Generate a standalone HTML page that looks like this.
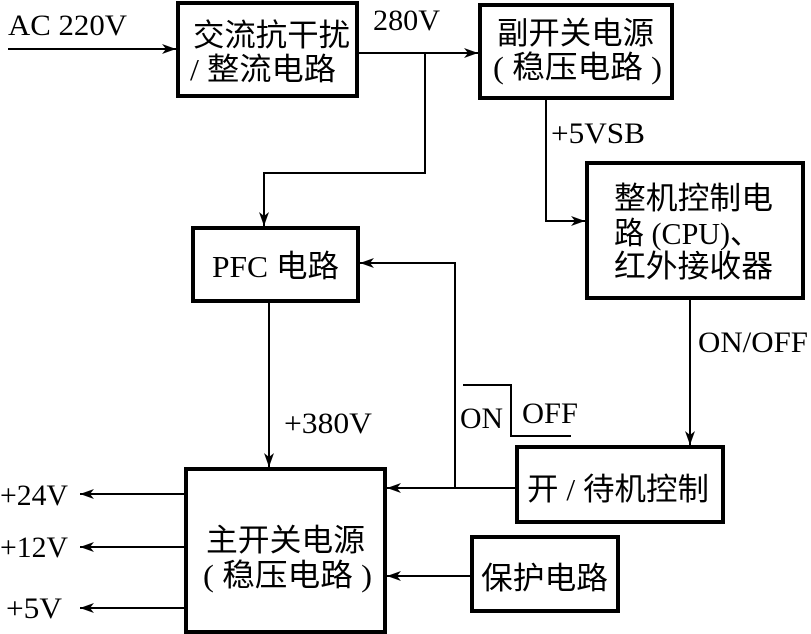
<!DOCTYPE html>
<html><head><meta charset="utf-8"><style>
html,body{margin:0;padding:0;background:#fff;}
svg{display:block;}
.c{font-family:"Liberation Serif","Noto Sans CJK SC",serif;font-size:31px;fill:#000;}
.l{font-family:"Liberation Serif",serif;font-size:30px;fill:#000;}
</style></head><body>
<svg width="811" height="634" viewBox="0 0 811 634" xmlns="http://www.w3.org/2000/svg">
<defs><marker id="a" viewBox="0 0 14 10" refX="14" refY="5" markerWidth="14" markerHeight="10" markerUnits="userSpaceOnUse" orient="auto"><path d="M0,0 L14,5 L0,10 L4,5 Z" fill="#000"/></marker></defs>
<g fill="none" stroke="#000" stroke-width="4">
<rect x="178" y="3" width="179" height="93"/>
<rect x="480" y="5" width="192" height="93"/>
<rect x="587" y="163" width="216" height="135"/>
<rect x="193" y="228" width="165" height="73"/>
<rect x="186" y="469" width="199" height="163"/>
<rect x="517" y="447" width="206" height="75"/>
<rect x="472" y="537" width="146" height="74"/>
</g>
<g fill="none" stroke="#000" stroke-width="2">
<line x1="8" y1="49" x2="176" y2="49" marker-end="url(#a)"/>
<line x1="357" y1="53" x2="478" y2="53" marker-end="url(#a)"/>
<polyline points="425,53 425,173 264,173 264,226" marker-end="url(#a)"/>
<polyline points="546,98 546,221 585,221" marker-end="url(#a)"/>
<line x1="269" y1="301" x2="269" y2="467" marker-end="url(#a)"/>
<line x1="517" y1="488" x2="387" y2="488" marker-end="url(#a)"/>
<polyline points="455,488 455,263 360,263" marker-end="url(#a)"/>
<line x1="690" y1="298" x2="690" y2="445" marker-end="url(#a)"/>
<line x1="472" y1="576" x2="387" y2="576" marker-end="url(#a)"/>
<line x1="186" y1="494" x2="80" y2="494" marker-end="url(#a)"/>
<line x1="186" y1="547" x2="80" y2="547" marker-end="url(#a)"/>
<line x1="186" y1="608" x2="80" y2="608" marker-end="url(#a)"/>
<polyline points="463,385 511,385 511,436 571,436"/>
</g>
<g class="c" lengthAdjust="spacingAndGlyphs">
<text x="193" y="46" textLength="157" lengthAdjust="spacingAndGlyphs">交流抗干扰</text>
<text x="190" y="80" textLength="146" lengthAdjust="spacingAndGlyphs">/ 整流电路</text>
<text x="497" y="44" textLength="157" lengthAdjust="spacingAndGlyphs">副开关电源</text>
<text x="493" y="78" textLength="169" lengthAdjust="spacingAndGlyphs">( 稳压电路 )</text>
<text x="614" y="209" textLength="159" lengthAdjust="spacingAndGlyphs">整机控制电</text>
<text x="614" y="244" textLength="146" lengthAdjust="spacingAndGlyphs">路 (CPU)、</text>
<text x="614" y="277" textLength="159" lengthAdjust="spacingAndGlyphs">红外接收器</text>
<text x="212" y="277" textLength="127" lengthAdjust="spacingAndGlyphs">PFC 电路</text>
<text x="206" y="551" textLength="159" lengthAdjust="spacingAndGlyphs">主开关电源</text>
<text x="203" y="586" textLength="169" lengthAdjust="spacingAndGlyphs">( 稳压电路 )</text>
<text x="527" y="500" textLength="182" lengthAdjust="spacingAndGlyphs">开 / 待机控制</text>
<text x="481" y="589" textLength="127" lengthAdjust="spacingAndGlyphs">保护电路</text>
</g>
<text class="l" x="8" y="35" textLength="119" lengthAdjust="spacingAndGlyphs">AC 220V</text>
<text class="l" x="373" y="30" textLength="67" lengthAdjust="spacingAndGlyphs">280V</text>
<text class="l" x="551" y="143" textLength="94" lengthAdjust="spacingAndGlyphs">+5VSB</text>
<text class="l" x="698" y="352" textLength="110" lengthAdjust="spacingAndGlyphs">ON/OFF</text>
<text class="l" x="284" y="433" textLength="88" lengthAdjust="spacingAndGlyphs">+380V</text>
<text class="l" x="460" y="428" textLength="43" lengthAdjust="spacingAndGlyphs">ON</text>
<text class="l" x="522" y="423" textLength="56" lengthAdjust="spacingAndGlyphs">OFF</text>
<text class="l" x="0" y="505" textLength="68" lengthAdjust="spacingAndGlyphs">+24V</text>
<text class="l" x="0" y="557" textLength="68" lengthAdjust="spacingAndGlyphs">+12V</text>
<text class="l" x="6" y="618" textLength="56" lengthAdjust="spacingAndGlyphs">+5V</text>
</svg>
</body></html>
